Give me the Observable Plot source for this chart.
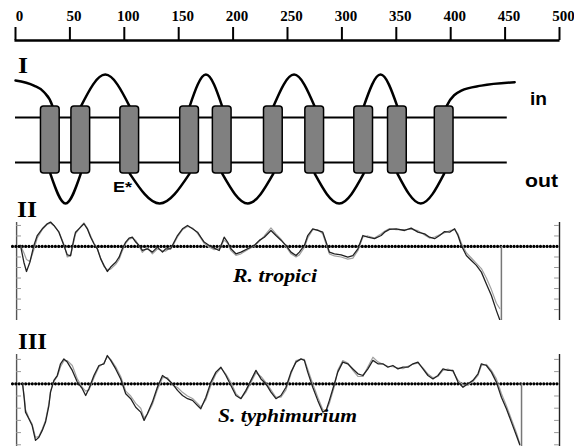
<!DOCTYPE html>
<html><head><meta charset="utf-8">
<script src="https://cdn.jsdelivr.net/npm/d3@7"></script>
<script src="https://cdn.jsdelivr.net/npm/@observablehq/plot@0.6"></script>
<style>
html,body{margin:0;padding:0;background:#fff}
#fig{position:relative;width:574px;height:446px;overflow:hidden;background:#fff}
</style></head><body><div id="fig"></div>
<script>
// ---------- data ----------
const rulerTicks = [0, 50, 100, 150, 200, 250, 300, 350, 400, 450, 500];

// transmembrane segment centres (residue position)
const tmCenters = [32, 60, 105, 160, 190, 237, 275, 320, 351, 394];
const cytoLoops = [[1, 2], [3, 4], [5, 6], [7, 8]];          // loops on the "in" side
const periLoops = [[0, 1], [2, 3], [4, 5], [6, 7], [8, 9]];  // loops on the "out" side
const nTermX = [0, 16.9, 26.1, 33.8, 34.5];
const nTermY = [2.65, 2.42, 2.14, 1.53, 1.2];
const cTermX = [395, 396.5, 409.8, 428.2, 458.8];
const cTermY = [1.2, 1.53, 2.2, 2.42, 2.57];
const membraneEnd = 452;

// hydropathy profile, R. tropici
const rtPos = [4.6,7.7,10.1,13.2,16.9,20.0,24.6,29.2,32.2,35.3,39.9,44.5,47.6,50.6,53.7,55.2,59.9,62.9,66.0,69.1,72.1,75.2,78.3,81.3,84.4,87.5,92.1,95.2,98.2,101.3,104.4,107.4,110.5,113.6,116.6,121.2,125.8,130.4,135.1,138.1,142.7,145.8,148.9,153.5,158.1,162.7,167.3,170.3,173.4,178.0,182.6,187.2,191.8,194.9,198.0,202.6,207.2,213.3,219.5,224.1,228.7,234.8,239.4,244.0,248.6,253.2,257.8,260.9,265.5,268.6,273.2,277.8,282.4,285.5,288.5,293.1,299.3,305.4,310.1,314.7,319.3,323.9,330.0,336.1,339.2,343.8,349.9,357.6,363.7,369.9,376.0,380.6,385.2,389.8,394.4,399.0,403.6,406.7,409.8,414.4,419.0,423.6,428.2,432.8,437.4,442.0,445.1];
const rtDark = [0.05,-0.75,-1.19,-0.75,0.05,0.52,0.84,1.08,1.16,1.0,0.68,0.05,-0.40,-0.43,0.37,0.68,0.92,1.08,0.84,0.44,0.13,-0.11,-0.59,-0.90,-1.19,-0.98,-0.75,-0.51,-0.11,0.21,0.40,0.44,0.21,0.05,-0.19,-0.11,-0.27,-0.03,-0.27,-0.11,-0.11,0.21,0.52,0.84,1.0,0.84,0.68,0.44,0.21,0.05,-0.08,-0.19,0.44,0.21,-0.11,-0.35,-0.27,-0.11,0.05,0.29,0.44,0.76,0.52,0.30,0.05,-0.27,-0.43,-0.27,0.05,0.52,0.84,0.76,0.68,0.21,-0.27,-0.35,-0.40,-0.51,-0.43,-0.11,0.52,0.44,0.37,0.52,0.68,0.81,0.84,0.76,0.87,0.68,0.60,0.44,0.37,0.52,0.71,0.68,0.84,0.52,0.05,-0.43,-0.67,-0.90,-1.22,-1.78,-2.33,-3.05,-3.48];
const rtLight = [0.05,-0.30,-0.62,-0.72,-0.15,0.40,0.80,1.05,1.12,1.0,0.70,0.10,-0.50,-0.45,0.25,0.60,0.95,1.12,0.88,0.50,0.15,-0.10,-0.55,-0.95,-1.10,-1.08,-0.85,-0.62,-0.20,0.15,0.35,0.40,0.28,0.02,-0.28,-0.05,-0.35,-0.12,-0.20,-0.22,-0.05,0.15,0.45,0.80,0.95,0.88,0.62,0.40,0.15,-0.02,-0.15,-0.10,0.30,0.15,-0.20,-0.42,-0.35,-0.15,0.02,0.25,0.50,0.88,0.60,0.35,0.00,-0.35,-0.50,-0.40,-0.05,0.40,0.80,0.80,0.60,0.10,-0.35,-0.45,-0.50,-0.60,-0.55,-0.20,0.45,0.50,0.40,0.60,0.72,0.85,0.80,0.80,0.82,0.75,0.55,0.40,0.45,0.55,0.65,0.75,0.80,0.60,0.15,-0.30,-0.55,-0.80,-1.05,-1.50,-2.05,-2.70,-2.95];
const rtEnd = 446.6;

// hydropathy profile, S. typhimurium
const stPos = [6.5,8.0,9.2,12.3,15.3,18.4,21.5,24.6,27.6,30.7,32.2,35.3,38.4,41.4,44.5,47.6,52.2,56.8,61.4,64.5,67.5,72.1,76.7,81.3,84.4,87.5,92.1,96.7,101.3,105.9,110.5,115.1,118.2,121.2,125.8,130.4,135.1,139.7,144.3,148.9,153.5,158.1,162.7,167.3,170.3,175.0,179.6,184.2,188.8,193.4,198.0,202.6,207.2,211.8,216.4,221.0,225.6,230.2,234.8,239.4,244.0,248.6,253.2,257.8,262.4,265.5,268.6,273.2,277.8,282.4,285.5,288.5,293.1,296.2,300.8,305.4,310.1,314.7,319.3,323.9,328.5,333.1,337.7,342.3,346.9,351.5,356.1,360.7,365.3,369.9,374.5,379.1,383.7,388.3,392.9,397.5,402.1,406.7,411.3,415.9,420.5,425.1,428.2,432.8,437.4,442.0,446.6,451.2,455.8,460.4,463.5];
const stDark = [0.0,-0.6,-1.16,-1.43,-1.71,-2.32,-2.19,-1.91,-1.57,-0.89,-0.34,0.14,0.34,0.82,1.02,0.89,0.55,0.07,-0.20,-0.48,-0.20,0.34,0.75,0.82,1.16,0.96,0.61,0.20,-0.41,-0.61,-0.96,-1.16,-1.50,-1.23,-0.75,-0.14,0.34,0.20,0.0,-0.27,-0.48,-0.61,-0.68,-0.89,-1.02,-0.55,0.07,0.48,0.68,0.34,-0.07,-0.48,-0.61,-0.27,0.14,0.55,0.20,0.0,-0.34,-0.61,-0.48,-0.14,0.48,0.89,1.02,0.96,0.48,-0.14,-0.68,-1.16,-1.09,-0.68,0.0,0.48,0.89,0.82,0.61,0.41,0.34,0.61,0.96,0.82,0.82,0.68,0.75,0.61,0.68,0.68,0.82,0.89,0.61,0.34,0.20,0.34,0.61,0.55,0.55,0.07,-0.14,0.0,0.14,0.41,0.82,0.75,0.48,0.07,-0.55,-1.02,-1.57,-2.12,-2.50];
const stLight = [0.0,-0.5,-1.05,-1.40,-1.65,-2.20,-2.15,-1.85,-1.50,-0.80,-0.30,0.10,0.30,0.70,0.95,0.95,0.75,0.20,-0.15,-0.30,-0.25,0.25,0.70,0.85,1.12,1.00,0.70,0.30,-0.30,-0.50,-0.80,-1.00,-1.40,-1.25,-0.85,-0.25,0.25,0.25,-0.05,-0.15,-0.35,-0.50,-0.60,-0.80,-0.95,-0.65,-0.05,0.40,0.65,0.40,0.05,-0.40,-0.60,-0.35,0.05,0.45,0.30,0.05,-0.25,-0.55,-0.55,-0.25,0.40,0.95,1.00,1.00,0.60,0.00,-0.55,-1.05,-1.12,-0.80,-0.10,0.55,0.95,0.85,0.55,0.30,0.30,0.70,1.09,0.90,0.80,0.72,0.70,0.65,0.62,0.72,0.80,0.85,0.65,0.40,0.25,0.30,0.55,0.60,0.50,0.15,-0.05,-0.05,0.10,0.35,0.75,0.80,0.55,0.20,-0.40,-0.90,-1.45,-2.00,-2.45];
const stEnd = 465.1;

const profTicks = [1, 0.5, -0.5, -1, -1.5, -2, -2.5, -3];

// ---------- helpers ----------
const SERIF = "'Liberation Serif','Times New Roman',serif";
const SANS = "'Liberation Sans',Arial,sans-serif";
const W = 574, ML = 15, MR = 15;
const fig = document.getElementById("fig");
function place(svg, top) {
  svg.style.position = "absolute";
  svg.style.left = "0px";
  svg.style.top = top + "px";
  svg.style.background = "transparent";
  svg.style.maxWidth = "none";
  fig.appendChild(svg);
}

// ---------- ruler ----------
place(Plot.plot({
  width: W, height: 46, marginLeft: ML, marginRight: MR, marginTop: 27, marginBottom: 6,
  x: {domain: [0, 500], axis: null},
  y: {domain: [0, 1], axis: null},
  marks: [
    Plot.ruleY([0], {x1: -0.5, x2: 500.5, stroke: "#000", strokeWidth: 2.5}),
    Plot.ruleX(rulerTicks, {y1: 0, y2: 1, stroke: "#000", strokeWidth: 2}),
    Plot.text(rulerTicks, {x: d => d, y: 1, text: d => String(d), dy: -11, dx: 4,
      fontSize: 15, fontWeight: "bold", fontFamily: SERIF, fill: "#000"})
  ]
}), 0);

// ---------- topology ----------
const boxHalf = 8.6, boxH = 1.49, peakIn = 2.91, peakOut = -2.82;
const loopPts = [];
cytoLoops.forEach(([i, j], k) => {
  const a = tmCenters[i], b = tmCenters[j];
  loopPts.push({x: a, y: boxH, k: "c" + k}, {x: (a + b) / 2, y: peakIn, k: "c" + k}, {x: b, y: boxH, k: "c" + k});
});
periLoops.forEach(([i, j], k) => {
  const a = tmCenters[i], b = tmCenters[j];
  loopPts.push({x: a, y: -boxH, k: "p" + k}, {x: (a + b) / 2, y: peakOut, k: "p" + k}, {x: b, y: -boxH, k: "p" + k});
});
const nTerm = nTermX.map((x, i) => ({x, y: nTermY[i]}));
const cTerm = cTermX.map((x, i) => ({x, y: cTermY[i]}));

place(Plot.plot({
  width: W, height: 166, marginLeft: ML, marginRight: MR, marginTop: 0, marginBottom: 0,
  x: {domain: [0, 500], axis: null},
  y: {domain: [-3.22, 4.16], axis: null},
  marks: [
    Plot.ruleY([1, -1], {x1: 0, x2: membraneEnd, stroke: "#000", strokeWidth: 2}),
    Plot.line(loopPts, {x: "x", y: "y", z: "k", curve: "natural", stroke: "#000", strokeWidth: 2.5}),
    Plot.line(nTerm, {x: "x", y: "y", curve: "monotone-x", stroke: "#000", strokeWidth: 2.5}),
    Plot.line(cTerm, {x: "x", y: "y", curve: "monotone-x", stroke: "#000", strokeWidth: 2.5}),
    Plot.rect(tmCenters, {x1: d => d - boxHalf, x2: d => d + boxHalf, y1: -boxH, y2: boxH,
      fill: "#808080", stroke: "#000", strokeWidth: 1.5, rx: 3})
  ]
}), 46);

// ---------- hydropathy panels ----------
function profile(pos, dark, light, endPos, top, height, yDomain, axisTop) {
  const rows = pos.map((x, i) => ({x, a: dark[i], b: light[i]}));
  const ticks = profTicks.filter(t => t <= axisTop && t >= yDomain[0]);
  place(Plot.plot({
    width: W, height, marginLeft: ML, marginRight: MR, marginTop: 0, marginBottom: 0,
    x: {domain: [0, 500], axis: null},
    y: {domain: yDomain, axis: null},
    marks: [
      Plot.ruleX([1], {y1: yDomain[0], y2: axisTop, stroke: "#555", strokeWidth: 1.4}),
      Plot.ruleY(ticks, {x1: 1, x2: 5.5, stroke: "#999", strokeWidth: 1}),
      Plot.ruleX([500], {y1: yDomain[0], y2: axisTop, stroke: "#222", strokeWidth: 1.4}),
      Plot.ruleY(ticks, {x1: 495.5, x2: 500, stroke: "#999", strokeWidth: 1}),
      Plot.ruleY([0], {x1: -2.3, x2: 500, stroke: "#000", strokeWidth: 3.2, strokeDasharray: "0,3.3", strokeLinecap: "round"}),
      Plot.ruleX([endPos], {y1: yDomain[0], y2: 0, stroke: "#777", strokeWidth: 1.5}),
      Plot.line(rows, {x: "x", y: "b", stroke: "#a0a0a0", strokeWidth: 1.2, clip: true}),
      Plot.line(rows, {x: "x", y: "a", stroke: "#222", strokeWidth: 1.3, clip: true})
    ]
  }), top);
}
profile(rtPos, rtDark, rtLight, rtEnd, 218, 102, [-3.52, 1.33], 1.14);
profile(stPos, stDark, stLight, stEnd, 350, 96, [-2.57, 1.365], 1.2);

// ---------- annotation labels ----------
const labels = [
  {t: "I", x: 18, y: 73, f: SERIF, s: 23, len: 10},
  {t: "II", x: 17, y: 217, f: SERIF, s: 23, len: 20},
  {t: "III", x: 18, y: 349, f: SERIF, s: 23, len: 29},
  {t: "in", x: 530, y: 105, f: SANS, s: 18, len: 17},
  {t: "out", x: 525, y: 187, f: SANS, s: 19, len: 33},
  {t: "E*", x: 113, y: 192, f: SANS, s: 14, len: 19},
  {t: "R. tropici", x: 233, y: 282, f: SERIF, s: 19, len: 84, it: true},
  {t: "S. typhimurium", x: 218, y: 422, f: SERIF, s: 19, len: 139, it: true}
];
const ov = d3.create("svg").attr("width", W).attr("height", 446)
  .style("position", "absolute").style("left", "0px").style("top", "0px");
ov.selectAll("text").data(labels).join("text")
  .attr("x", d => d.x).attr("y", d => d.y)
  .attr("font-family", d => d.f).attr("font-size", d => d.s)
  .attr("font-weight", "bold").attr("font-style", d => d.it ? "italic" : "normal")
  .attr("textLength", d => d.len).attr("lengthAdjust", "spacingAndGlyphs")
  .attr("fill", "#000")
  .text(d => d.t);
fig.appendChild(ov.node());
</script></body></html>
